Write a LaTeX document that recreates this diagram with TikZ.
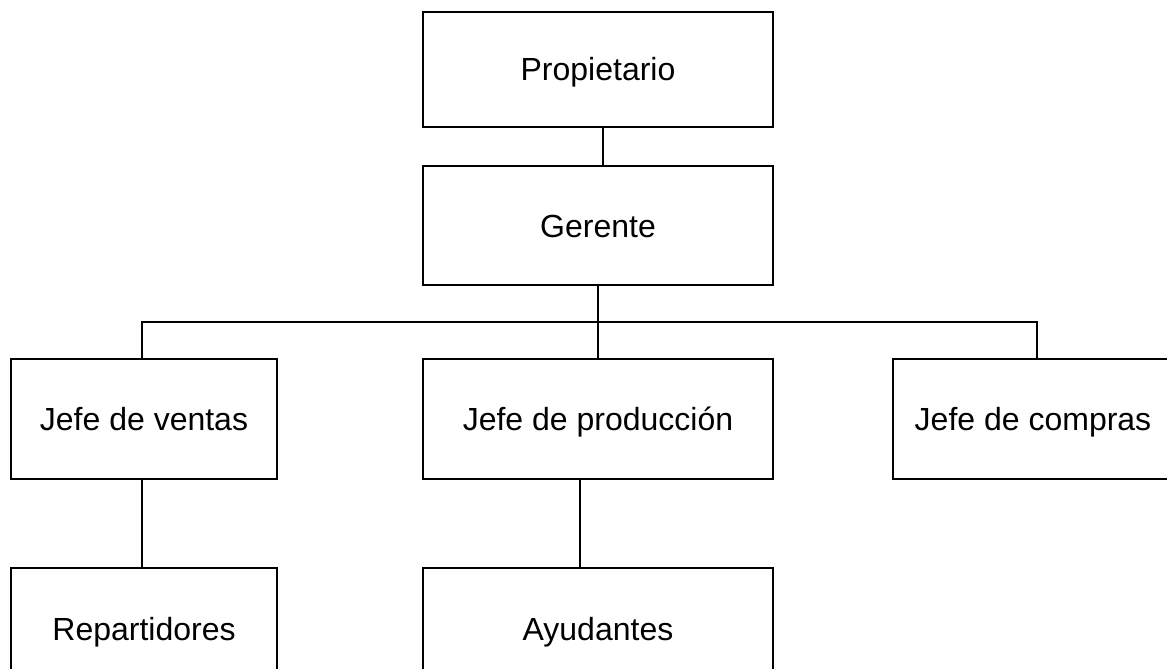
\documentclass[tikz,border=0pt]{standalone}
\usepackage{fontspec}
\setmainfont{Liberation Sans}
\begin{document}
\begin{tikzpicture}[x=1pt,y=-1pt,
  orgbox/.style={draw=black, line width=1.4pt, fill=white, inner sep=0pt,
    minimum height=#1, text height=23pt, text depth=0pt,
    font=\fontsize{32}{38}\selectfont},
  conn/.style={draw=black, line width=1.4pt}]
\clip (0,0) rectangle (1167,669);
\fill[white] (0,0) rectangle (1167,669);
\node[orgbox=115pt, minimum width=350pt] (prop) at (598,69.5) {Propietario};
\node[orgbox=119pt, minimum width=350pt] (ger) at (598,225.5) {Gerente};
\node[orgbox=120pt, minimum width=266pt] (ventas) at (144,419) {Jefe de ventas};
\node[orgbox=120pt, minimum width=350pt] (prod) at (598,419) {Jefe de producción};
\node[orgbox=120pt, minimum width=280pt] (compras) at (1033,419) {Jefe de compras};
\node[orgbox=122pt, minimum width=266pt] (rep) at (144,629) {Repartidores};
\node[orgbox=122pt, minimum width=350pt] (ayu) at (598,629) {Ayudantes};
\coordinate (bus) at (0,322);
\draw[conn] ([xshift=5pt]prop.south) -- ([xshift=5pt]ger.north);
\draw[conn] (ger.south) -- (prod.north);
\draw[conn] ([xshift=-2pt]ventas.north) |- (ger.south |- bus) -| ([xshift=4pt]compras.north);
\draw[conn] ([xshift=-2pt]ventas.south) -- ([xshift=-2pt]rep.north);
\draw[conn] ([xshift=-18pt]prod.south) -- ([xshift=-18pt]ayu.north);
\end{tikzpicture}
\end{document}
